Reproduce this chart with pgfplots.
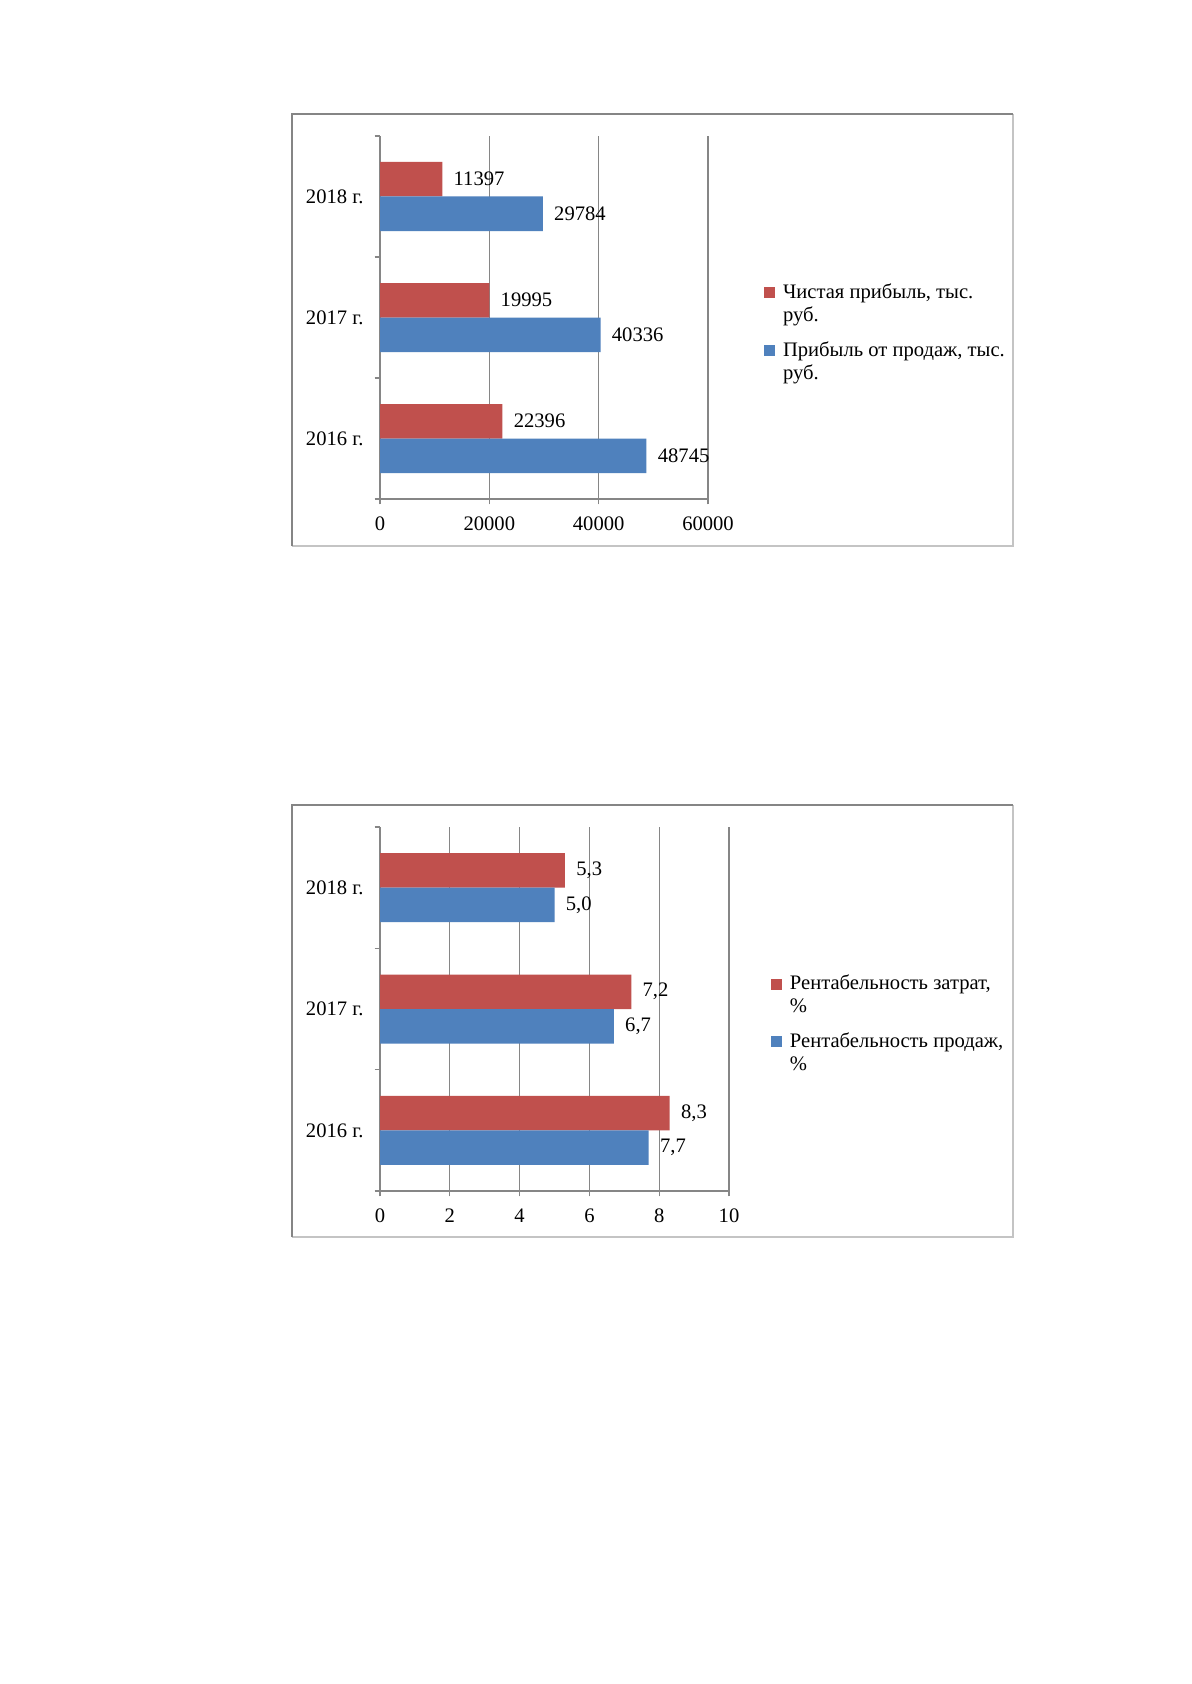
\documentclass[border=0pt]{standalone}
\usepackage{fontspec}
\setmainfont{Liberation Serif}
\usepackage{pgfplots}
\pgfplotsset{compat=1.18}
\definecolor{xlred}{HTML}{C0504D}
\definecolor{xlblue}{HTML}{4F81BD}
\definecolor{gridgray}{HTML}{868686}
\definecolor{framedark}{HTML}{858585}
\definecolor{framelight}{HTML}{C4C4C4}
\newcommand{\chfont}{\fontsize{10.3}{11.3}\selectfont}
\pgfplotsset{
  xlchart/.style={
    scale only axis, xbar, clip=false,
    ymin=-0.5, ymax=2.5,
    ytick={-0.5,0.5,1.5,2.5},
    yticklabels={2016 г.,2017 г.,2018 г.},
    y tick label as interval,
    axis lines*=left,
    axis line style={gridgray, line width=0.6pt, -},
    tick align=outside, major tick length=2.7pt,
    tick style={gridgray, line width=0.6pt},
    xmajorgrids, ymajorgrids=false,
    major grid style={gridgray, line width=0.6pt},
    xmin=0,
    tick label style={font=\chfont, black},
    xticklabel style={inner sep=0pt, anchor=north, yshift=-6.0pt},
    yticklabel style={inner sep=0pt, anchor=east, xshift=-5.3pt},
    /pgf/number format/assume math mode=true,
    /pgf/number format/1000 sep={},
    scaled x ticks=false,
    bar width=17.25pt,
    point meta=x,
    nodes near coords,
    nodes near coords align=horizontal,
    every node near coord/.append style={anchor=west, inner sep=0pt, xshift=5.5pt, black, font=\chfont},
    legend style={draw=none, fill=none, inner sep=0pt, outer sep=0pt,
      row sep=16.1pt, column sep=2pt, cells={anchor=base west, inner sep=0pt},
      anchor=north west, font=\chfont},
    legend image code/.code={\fill[##1, draw=none] (0pt,0pt) rectangle (5.5pt,5.5pt);},
  }
}
\begin{document}
\begin{tikzpicture}[x=1pt,y=1pt]
\fill[white] (0,0) rectangle (595.5,-842);
\useasboundingbox (0,0) rectangle (595.5,-842);
% frame 1
\draw[framelight, line width=0.7pt] (506.5,-57) -- (506.5,-273) -- (146,-273);
\draw[framedark, line width=1.1pt] (146,-273) -- (146,-57) -- (506.5,-57);
% frame 2
\draw[framelight, line width=0.7pt] (506.5,-402.5) -- (506.5,-618.5) -- (146,-618.5);
\draw[framedark, line width=1.1pt] (146,-618.5) -- (146,-402.5) -- (506.5,-402.5);

\begin{axis}[xlchart,
  at={(190pt,-249.5pt)}, anchor=south west,
  width=164pt, height=181.5pt,
  xmax=60000, xtick={0,20000,40000,60000},
  legend style={at={(1.1707,0.604)}},
]
\addplot[fill=xlred, draw=none, bar shift=8.625pt] coordinates {(22396,0) (19995,1) (11397,2)};
\addlegendentry{\parbox[t]{120pt}{Чистая прибыль, тыс.\\руб.}}
\addplot[fill=xlblue, draw=none, bar shift=-8.625pt] coordinates {(48745,0) (40336,1) (29784,2)};
\addlegendentry{\parbox[t]{120pt}{Прибыль от продаж, тыс.\\руб.}}
\end{axis}

\begin{axis}[xlchart,
  at={(190pt,-595.5pt)}, anchor=south west,
  width=174.5pt, height=182pt,
  xmax=10, xtick={0,2,4,6,8,10},
  nodes near coords={\pgfmathprintnumber[fixed, fixed zerofill, precision=1, use comma]{\pgfplotspointmeta}},
  legend style={at={(1.1203,0.605)}},
]
\addplot[fill=xlred, draw=none, bar shift=8.625pt] coordinates {(8.3,0) (7.2,1) (5.3,2)};
\addlegendentry{\parbox[t]{120pt}{Рентабельность затрат,\\\%}}
\addplot[fill=xlblue, draw=none, bar shift=-8.625pt] coordinates {(7.7,0) (6.7,1) (5.0,2)};
\addlegendentry{\parbox[t]{120pt}{Рентабельность продаж,\\\%}}
\end{axis}
\end{tikzpicture}
\end{document}
